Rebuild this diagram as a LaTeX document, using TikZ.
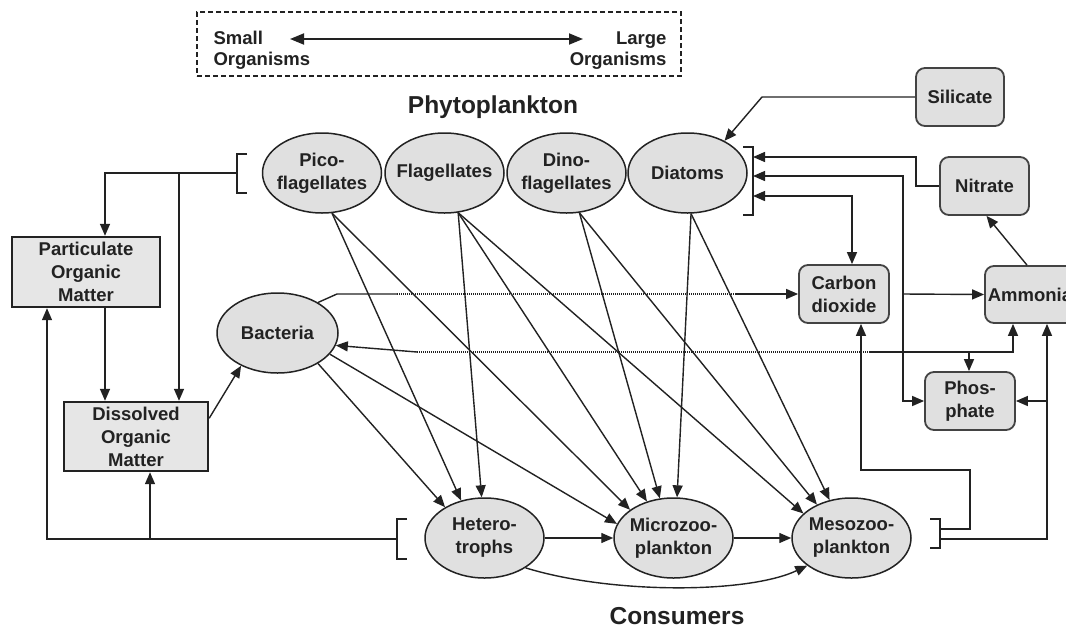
\documentclass[tikz,border=0pt]{standalone}
\usepackage{fontspec}
\setmainfont{Liberation Sans}
\usetikzlibrary{arrows.meta,shapes.geometric,calc}
\definecolor{ln}{HTML}{222222}
\definecolor{efill}{HTML}{E0E0E0}
\definecolor{bfill}{HTML}{E6E6E6}
\begin{document}
\begin{tikzpicture}[x=1pt,y=-1pt,
  font=\fontsize{18.5}{23}\selectfont\bfseries,
  >={Triangle[length=12pt,width=10pt]},
  line/.style={draw=ln, line width=1.4pt},
  dotseg/.style={draw=ln, line width=1.4pt, dash pattern=on 1.1pt off 0.9pt},
  oval/.style={ellipse, draw=ln, line width=1.5pt, fill=efill, minimum width=119pt, minimum height=80pt, inner xsep=-15pt, inner ysep=-15pt, align=center, text=ln},
  sqbox/.style={rectangle, draw=ln, line width=2.4pt, fill=bfill, inner sep=0pt, align=center, text=ln},
  rbox/.style={rectangle, rounded corners=9pt, draw=ln!85, line width=1.8pt, fill=efill, minimum width=89pt, minimum height=58pt, inner sep=0pt, align=center, text=ln},
  title/.style={font=\fontsize{24.5}{29}\selectfont\bfseries, text=ln, anchor=base}
]
\clip (0,0) rectangle (1066,630);
\fill[white] (0,0) rectangle (1066,630);

% legend
\node[draw=ln, line width=1.4pt, dash pattern=on 5pt off 3pt, minimum width=484pt, minimum height=64pt, inner sep=0pt] (legend) at (439,44) {};
\node[anchor=west, align=left, text=ln, font=\fontsize{18.5}{21}\selectfont\bfseries] (small) at (210,50.5) {Small\\Organisms};
\node[anchor=east, align=right, text=ln, font=\fontsize{18.5}{21}\selectfont\bfseries] (large) at (670,50.5) {Large\\Organisms};
\coordinate (la) at (290,39);
\coordinate (lb) at (583,39);
\draw[draw=ln, line width=1.8pt, {Triangle[length=14pt,width=11pt]}-{Triangle[length=14pt,width=11pt]}] (la) -- (lb);

% titles
\node[title] (phy) at (493,113) {Phytoplankton};
\node[title] (cons) at (677,624) {Consumers};

% ellipses
\node[oval] (pico) at (322,173) {Pico-\\flagellates};
\node[oval] (flag) at (444.5,173) {Flagellates};
\node[oval] (dino) at (566.5,173) {Dino-\\flagellates};
\node[oval] (diat) at (687.5,173) {Diatoms};
\node[oval, minimum width=121pt] (bact) at (277.5,333) {Bacteria};
\node[oval] (het) at (484.5,538) {Hetero-\\trophs};
\node[oval] (mic) at (673.5,538) {Microzoo-\\plankton};
\node[oval] (mes) at (851.5,538) {Mesozoo-\\plankton};

% boxes
\node[sqbox, minimum width=148pt, minimum height=70pt] (pom) at (86,272) {Particulate\\Organic\\Matter};
\node[sqbox, minimum width=144pt, minimum height=69pt] (dom) at (136,436.5) {Dissolved\\Organic\\Matter};
\node[rbox, minimum width=88pt] (sil) at (960,97) {Silicate};
\node[rbox] (nit) at (984.5,186) {Nitrate};
\node[rbox, minimum width=90pt] (co2) at (844,294) {Carbon\\dioxide};
\node[rbox, minimum width=90pt, minimum height=57pt] (amm) at (1030,294.5) {Ammonia};
\node[rbox, minimum width=90pt] (pho) at (970,401) {Phos-\\phate};

% Picoflagellate bracket and detritus
\draw[line] (247,154) -- (237,154) -- (237,193) -- (247,193);
\coordinate (pbm) at (237,173);
\coordinate (pomA) at ([xshift=19pt]pom.north);
\coordinate (pomS) at ([xshift=19pt]pom.south);
\draw[line,->] (pbm) -| (pomA);
\coordinate (j1) at (179,173);
\draw[line,->] (j1) -- (j1 |- dom.north);
\draw[line,->] (pomS) -- (pomS |- dom.north);
\draw[line,->] (dom.14) -- (bact.-138);

% grazing links
\draw[line,->] (bact.-37) -- (het.142);
\draw[line,->] (bact.-22) -- (mic.166);
\draw[line,->] (pico.-76) -- (het.122);
\draw[line,->] (pico.-76) -- (mic.147);
\draw[line,->] (flag.-71) -- (het.94);
\draw[line,->] (flag.-71) -- (mic.126);
\draw[line,->] (flag.-71) -- (mes.153);
\draw[line,->] (dino.-72) -- (mic.109);
\draw[line,->] (dino.-72) -- (mes.136);
\draw[line,->] (diat.-85) -- (mic.85);
\draw[line,->] (diat.-85) -- (mes.120);
\draw[line,->] (het.east) -- (mic.west);
\draw[line,->] (mic.east) -- (mes.west);
\draw[line,->] (het.-36) .. controls (610,594) and (747,594) .. (mes.-148);

% heterotroph bracket
\draw[line] (407,519) -- (397,519) -- (397,559) -- (407,559);
\coordinate (hbm) at (397,539);
\coordinate (pomB) at ([xshift=-39pt]pom.south);
\draw[line,->] (hbm) -| (pomB);
\coordinate (j2) at (150,539);
\draw[line,->] (j2) -- (j2 |- dom.south);

% mesozooplankton bracket
\draw[line] (930,519) -- (940,519) -- (940,548) -- (930,548);
\coordinate (mb1) at (940,529);
\coordinate (mb2) at (940,539);
\coordinate (co2B) at ([xshift=17pt]co2.south);
\coordinate (ammR) at ([xshift=17pt]amm.south);
\coordinate (ammL) at ([xshift=-17pt]amm.south);
\draw[line,->] (mb1) -| (970,470) -| (co2B);
\draw[line,->] (mb2) -| (ammR);
\coordinate (j3) at (1047,401);
\draw[line,->] (j3) -- (pho.east);

% bacteria respiration / remineralisation
\coordinate (bu1) at (337,294);
\coordinate (bu2) at (397,294);
\coordinate (bu3) at (735,294);
\draw[line] (bact.37) -- (bu1) -- (bu2);
\draw[dotseg] (bu2) -- (bu3);
\draw[line,->] (bu3) -- (co2.west);
\coordinate (bl1) at (417,352);
\coordinate (bl2) at (870,352);
\draw[line,->] (bl1) -- (bact.-12);
\draw[dotseg] (bl1) -- (bl2);
\draw[line,->] (bl2) -| (ammL);
\coordinate (j4) at (969,352);
\draw[line,->] (j4) -- (j4 |- pho.north);

% diatom bracket and nutrients
\draw[line] (743,147) -- (753,147) -- (753,215) -- (743,215);
\coordinate (db1) at (753,157);
\coordinate (db2) at (753,176);
\coordinate (db3) at (753,196);
\draw[line,->] (nit.west) -- (916,186) |- (db1);
\draw[line,<->] (db2) -| (903,401) -- (pho.west);
\coordinate (j5) at (903,294);
\draw[line,->] (j5) -- (amm.west);
\coordinate (co2T) at ([xshift=8pt]co2.north);
\draw[line,<->] (db3) -| (co2T);
\draw[line,->] (sil.west) -- (762,97) -- (diat.41);
\draw[line,->] ([xshift=-3pt]amm.north) -- ([xshift=2pt]nit.south);
\end{tikzpicture}
\end{document}
